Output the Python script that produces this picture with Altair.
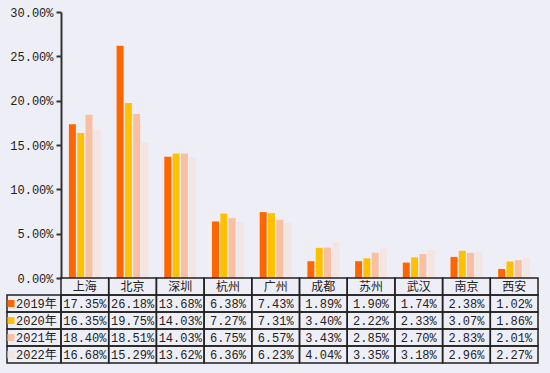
import altair as alt
import pandas as pd

cities = ["上海", "北京", "深圳", "杭州", "广州", "成都", "苏州", "武汉", "南京", "西安"]
years = ["2019年", "2020年", "2021年", "2022年"]
v2019 = [17.35, 26.18, 13.68, 6.38, 7.43, 1.89, 1.90, 1.74, 2.38, 1.02]
v2020 = [16.35, 19.75, 14.03, 7.27, 7.31, 3.40, 2.22, 2.33, 3.07, 1.86]
v2021 = [18.40, 18.51, 14.03, 6.75, 6.57, 3.43, 2.85, 2.70, 2.83, 2.01]
v2022 = [16.68, 15.29, 13.62, 6.36, 6.23, 4.04, 3.35, 3.18, 2.96, 2.27]
colors = ["#FF6600", "#FFC000", "#F8BFA0", "#F3E5E2"]
yticks = [0, 0.05, 0.10, 0.15, 0.20, 0.25, 0.30]

FONT = "Liberation Mono, Noto Sans CJK SC"
INK = "#222222"

rows = []
for yr, vals in zip(years, [v2019, v2020, v2021, v2022]):
    for c, v in zip(cities, vals):
        rows.append({"city": c, "year": yr, "value": v / 100, "row": yr, "label": f"{v:.2f}%"})
df = pd.DataFrame(rows)
hdr = pd.DataFrame({"city": cities, "row": "header", "label": cities})
cells = pd.concat([df[["city", "row", "label"]], hdr], ignore_index=True)
rowlab = pd.DataFrame({"row": years, "label": years})

xscale = alt.Scale(domain=cities, paddingInner=0, paddingOuter=0)
cscale = alt.Scale(domain=years, range=colors)
row_dom = ["header"] + years
tscale = alt.Scale(domain=row_dom, range=[266, 351], paddingInner=0, paddingOuter=0)

bars = alt.Chart(df).mark_bar().encode(
    x=alt.X("city:N", scale=xscale, axis=None, sort=cities),
    xOffset=alt.XOffset("year:N", scale=alt.Scale(domain=years, paddingInner=0.16, paddingOuter=0.95)),
    y=alt.Y("value:Q", scale=alt.Scale(domain=[0, 0.30], nice=False),
            axis=alt.Axis(format=".2%", values=yticks, grid=False, title=None,
                          domainColor="#333", domainWidth=2, tickColor="#333",
                          tickWidth=2, tickSize=5, labelFont=FONT, labelFontSize=12,
                          labelColor=INK, labelPadding=3)),
    color=alt.Color("year:N", scale=cscale, legend=None),
)

ty = alt.Y("row:N", scale=tscale, axis=None, sort=row_dom)

cell_rect = alt.Chart(cells).mark_rect(fill="#EEEEF7", fillOpacity=0, stroke=INK, strokeWidth=1.5).encode(
    x=alt.X("city:N", scale=xscale, axis=None, sort=cities), y=ty
)
cell_text = alt.Chart(cells).mark_text(font=FONT, fontSize=12, color=INK, baseline="middle").encode(
    x=alt.X("city:N", scale=xscale, axis=None, sort=cities), y=ty, text="label:N"
)
lab_rect = alt.Chart(rowlab).mark_rect(fill="#EEEEF7", fillOpacity=0, stroke=INK, strokeWidth=1.5).encode(
    x=alt.value(-54), x2=alt.value(0), y=ty
)
lab_sq = alt.Chart(rowlab).mark_square(size=49, opacity=1).encode(
    x=alt.value(-50), y=ty, color=alt.Color("row:N", scale=cscale, legend=None)
)
lab_text = alt.Chart(rowlab).mark_text(font=FONT, fontSize=12, color=INK, align="left", baseline="middle").encode(
    x=alt.value(-45), y=ty, text="label:N"
)

table = alt.layer(cell_rect, cell_text, lab_rect, lab_sq, lab_text)

chart = alt.layer(bars, table).resolve_scale(y="independent").properties(
    width=477, height=266,
    autosize=alt.AutoSizeParams(type="none"),
    padding={"left": 61, "top": 12, "right": 12, "bottom": 95},
).configure(background="#EEEEF7").configure_view(stroke=None)

chart.save("out.html", embed_options={"renderer": "svg", "actions": False})
